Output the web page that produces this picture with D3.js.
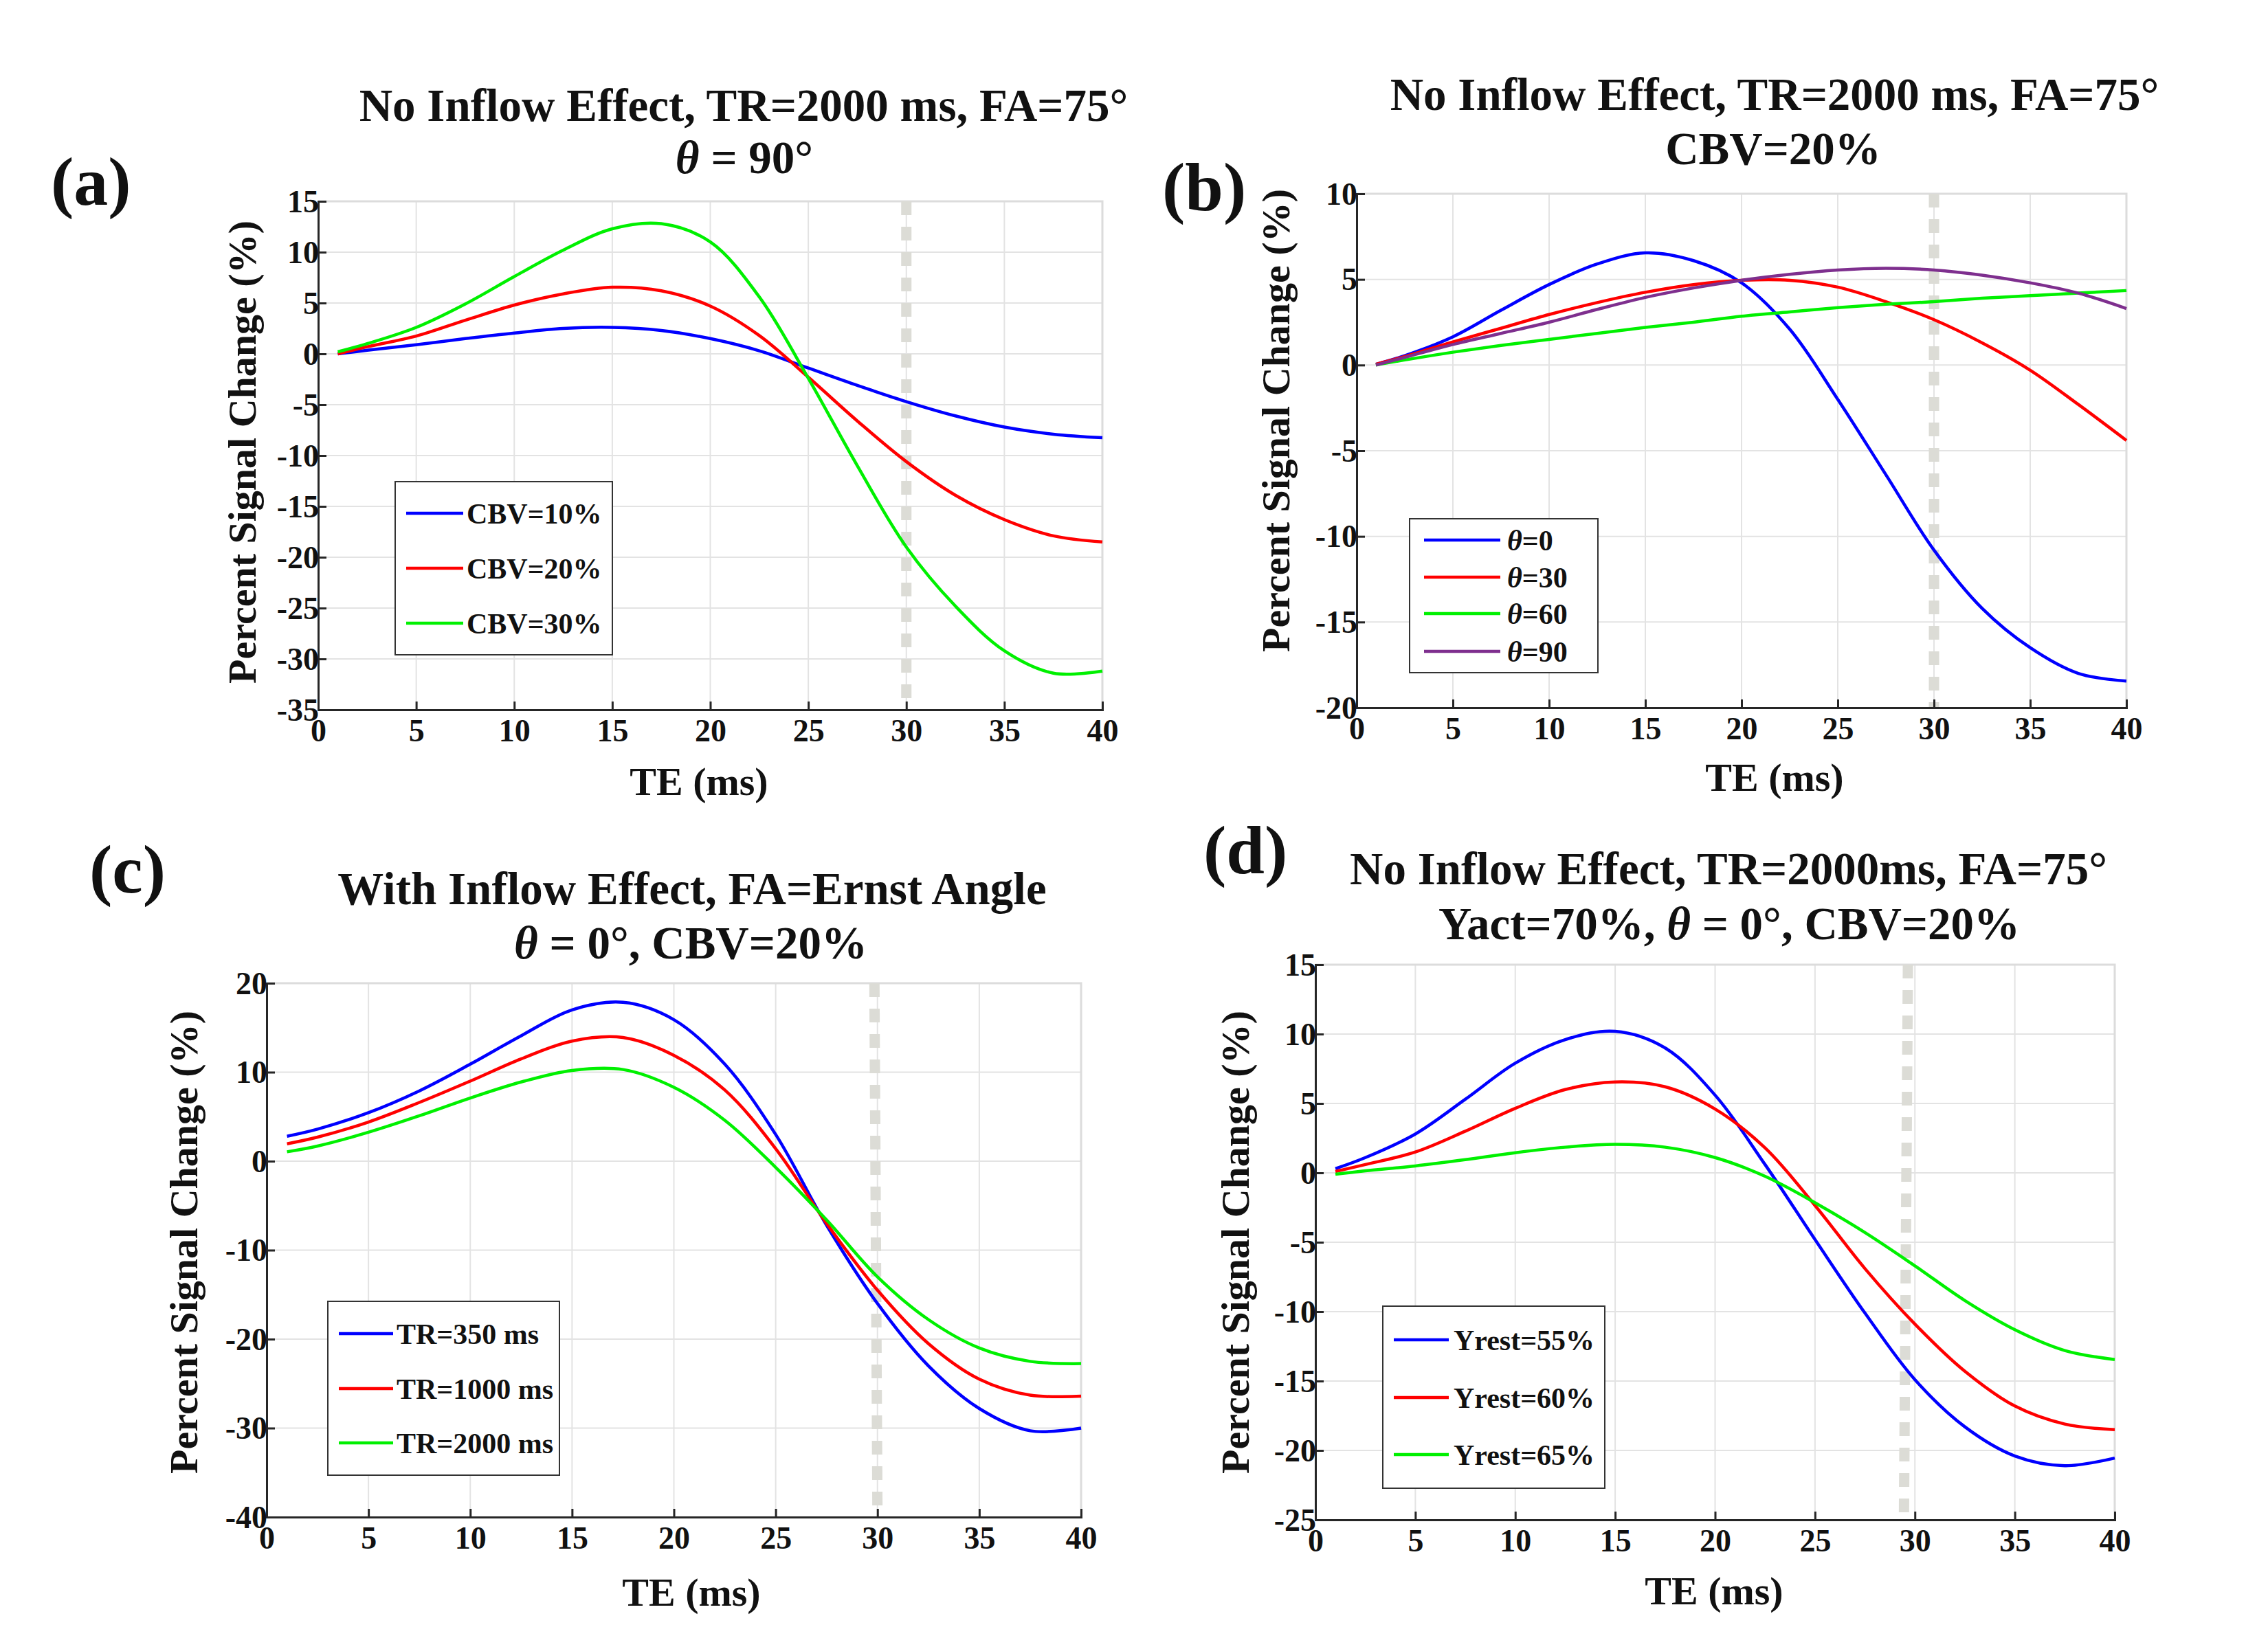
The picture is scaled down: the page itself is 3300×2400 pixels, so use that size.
<!DOCTYPE html>
<html>
<head>
<meta charset="utf-8">
<script src="https://cdn.jsdelivr.net/npm/d3@7"></script>
<style>
  body { margin: 0; background: #fff; }
  text { font-family: "Liberation Serif", "Times New Roman", serif; font-weight: bold; fill: #111; }
</style>
</head>
<body>
<div id="fig"></div>
<script>
// echo times (ms) the curves are sampled at
var TE = [1, 2.5, 5, 7.5, 10, 12.5, 15, 17.5, 20, 22.5, 25, 27.5, 30, 32.5, 35, 37.5, 40];
var xTicks = [0, 5, 10, 15, 20, 25, 30, 35, 40];

// (a) no inflow, theta = 90
var aYTicks = [-35, -30, -25, -20, -15, -10, -5, 0, 5, 10, 15];
var aCbv10 = [0, 0.35, 0.9, 1.5, 2.05, 2.5, 2.6, 2.3, 1.5, 0.3, -1.4, -3.1, -4.7, -6.1, -7.2, -7.9, -8.25];
var aCbv20 = [0, 0.7, 1.75, 3.3, 4.8, 5.9, 6.55, 6.2, 4.7, 1.8, -2.3, -6.6, -10.6, -13.9, -16.3, -17.9, -18.5];
var aCbv30 = [0.2, 1.0, 2.6, 4.9, 7.6, 10.2, 12.3, 12.8, 11.0, 5.6, -2.4, -11.0, -19.0, -24.8, -29.2, -31.4, -31.2];

// (b) no inflow, CBV = 20%
var bYTicks = [-20, -15, -10, -5, 0, 5, 10];
var bTheta0 = [0.05, 0.55, 1.65, 3.2, 4.7, 5.9, 6.55, 6.1, 4.8, 2.1, -2.0, -6.4, -10.8, -14.2, -16.5, -18.0, -18.45];
var bTheta30 = [0.05, 0.5, 1.35, 2.15, 2.95, 3.65, 4.25, 4.7, 4.95, 4.95, 4.55, 3.7, 2.65, 1.3, -0.3, -2.3, -4.4];
var bTheta60 = [0, 0.3, 0.75, 1.15, 1.5, 1.85, 2.2, 2.5, 2.85, 3.1, 3.35, 3.55, 3.7, 3.9, 4.05, 4.2, 4.35];
var bTheta90 = [0, 0.45, 1.2, 1.85, 2.5, 3.25, 3.95, 4.5, 4.95, 5.3, 5.55, 5.65, 5.55, 5.25, 4.8, 4.2, 3.3];

// (c) with inflow, FA = Ernst angle
var cYTicks = [-40, -30, -20, -10, 0, 10, 20];
var cTr350 = [2.8, 3.6, 5.45, 7.9, 10.9, 14.1, 17.0, 17.85, 15.9, 10.9, 3.0, -7.2, -16.0, -23.0, -27.8, -30.3, -30.0];
var cTr1000 = [1.95, 2.7, 4.4, 6.6, 9.0, 11.5, 13.5, 13.9, 11.9, 8.0, 1.4, -7.0, -14.5, -20.5, -24.5, -26.3, -26.4];
var cTr2000 = [1.05, 1.7, 3.25, 5.1, 7.1, 8.9, 10.2, 10.3, 8.3, 4.6, -0.7, -6.6, -13.0, -17.8, -21.0, -22.5, -22.75];

// (d) no inflow, Yact = 70%
var dYTicks = [-25, -20, -15, -10, -5, 0, 5, 10, 15];
var dYrest55 = [0.3, 1.1, 2.8, 5.3, 7.9, 9.6, 10.2, 9.0, 5.6, 0.6, -4.8, -10.1, -14.9, -18.3, -20.4, -21.1, -20.55];
var dYrest60 = [0.1, 0.6, 1.5, 3.0, 4.65, 6.0, 6.55, 6.2, 4.6, 1.8, -2.35, -6.9, -10.9, -14.3, -16.8, -18.1, -18.5];
var dYrest65 = [-0.1, 0.15, 0.5, 0.95, 1.45, 1.85, 2.05, 1.85, 1.1, -0.25, -2.15, -4.3, -6.7, -9.2, -11.3, -12.8, -13.45];

// TE marker line (top, bottom)
var aMark = [30, 30];
var bMark = [30, 30];
var cMark = [29.85, 30.0];
var dMark = [29.65, 29.45];

var BLUE = "#0000ff", RED = "#ff0000", GREEN = "#00f000", PURPLE = "#7e2f8e";

var panels = [
  { label: "(a)", lab: [74, 298], box: [463, 1604, 293, 1033], yDomain: [-35, 15], yTicks: aYTicks, mark: aMark,
    title: [[1082, 176, "No Inflow Effect, TR=2000 ms, FA=75°"], [1083, 252, [["θ", true], [" = 90°", false]]]],
    yLab: [372, 658], xLab: [1017, 1157],
    legend: { box: [575, 891, 701, 953], rows: [747, 827, 907], line: [591, 674], text: 679 },
    series: [["CBV=10%", BLUE, aCbv10], ["CBV=20%", RED, aCbv20], ["CBV=30%", GREEN, aCbv30]] },
  { label: "(b)", lab: [1691, 306], box: [1974, 3094, 282, 1030], yDomain: [-20, 10], yTicks: bYTicks, mark: bMark,
    title: [[2582, 160, "No Inflow Effect, TR=2000 ms, FA=75°"], [2580, 239, "CBV=20%"]],
    yLab: [1876, 612], xLab: [2582, 1151],
    legend: { box: [2051, 2325, 755, 979], rows: [786, 840, 893, 948], line: [2072, 2183], text: 2193 },
    series: [["0", BLUE, bTheta0], ["30", RED, bTheta30], ["60", GREEN, bTheta60], ["90", PURPLE, bTheta90]], theta: true },
  { label: "(c)", lab: [130, 1299], box: [388, 1573, 1431, 2208], yDomain: [-40, 20], yTicks: cYTicks, mark: cMark,
    title: [[1007, 1316, "With Inflow Effect, FA=Ernst Angle"], [1005, 1395, [["θ", true], [" = 0°, CBV=20%", false]]]],
    yLab: [287, 1808], xLab: [1006, 2337],
    legend: { box: [477, 814, 1894, 2147], rows: [1941, 2021, 2100], line: [493, 572], text: 577 },
    series: [["TR=350 ms", BLUE, cTr350], ["TR=1000 ms", RED, cTr1000], ["TR=2000 ms", GREEN, cTr2000]] },
  { label: "(d)", lab: [1751, 1271], box: [1914, 3077, 1404, 2212], yDomain: [-25, 15], yTicks: dYTicks, mark: dMark,
    title: [[2515, 1287, "No Inflow Effect, TR=2000ms, FA=75°"], [2516, 1367, [["Yact=70%, ", false], ["θ", true], [" = 0°, CBV=20%", false]]]],
    yLab: [1817, 1808], xLab: [2494, 2335],
    legend: { box: [2012, 2335, 1901, 2166], rows: [1950, 2034, 2117], line: [2028, 2108], text: 2115 },
    series: [["Yrest=55%", BLUE, dYrest55], ["Yrest=60%", RED, dYrest60], ["Yrest=65%", GREEN, dYrest65]] }
];

var svg = d3.select("#fig").append("svg")
  .attr("width", 3300)
  .attr("height", 2400)
  .style("background", "#fff");

function richText(sel, parts) {
  if (typeof parts === "string") { sel.text(parts); return; }
  parts.forEach(function(p) {
    sel.append("tspan").text(p[0]).style("font-style", p[1] ? "italic" : "normal");
  });
}

panels.forEach(function(p) {
  var x = d3.scaleLinear().domain([0, 40]).range([p.box[0], p.box[1]]);
  var y = d3.scaleLinear().domain(p.yDomain).range([p.box[3], p.box[2]]);
  var g = svg.append("g");

  // grid
  g.selectAll(".gx").data(xTicks).enter().append("line")
    .attr("x1", d => x(d)).attr("x2", d => x(d))
    .attr("y1", p.box[2]).attr("y2", p.box[3])
    .attr("stroke", "#e3e3e3").attr("stroke-width", 2);
  g.selectAll(".gy").data(p.yTicks).enter().append("line")
    .attr("x1", p.box[0]).attr("x2", p.box[1])
    .attr("y1", d => y(d)).attr("y2", d => y(d))
    .attr("stroke", "#e3e3e3").attr("stroke-width", 2);
  // top / right border
  g.append("path")
    .attr("d", `M${p.box[0]},${p.box[2]}H${p.box[1]}V${p.box[3]}`)
    .attr("fill", "none").attr("stroke", "#dcdcdc").attr("stroke-width", 3);

  // TE = 30 marker
  g.append("line")
    .attr("x1", x(p.mark[0])).attr("y1", p.box[2])
    .attr("x2", x(p.mark[1])).attr("y2", p.box[3])
    .attr("stroke", "#dcdcd6").attr("stroke-width", 15)
    .attr("stroke-dasharray", "20,17");

  // axes
  var xAxis = d3.axisBottom(x).tickValues(xTicks).tickSize(-12).tickPadding(0).tickFormat(d => String(d));
  var yAxis = d3.axisLeft(y).tickValues(p.yTicks).tickSize(-12).tickPadding(0).tickFormat(d => String(d));

  var gx = g.append("g").attr("transform", `translate(0,${p.box[3]})`).call(xAxis);
  var gy = g.append("g").attr("transform", `translate(${p.box[0]},0)`).call(yAxis);
  [gx, gy].forEach(function(a) {
    a.select(".domain").attr("stroke", "#262626").attr("stroke-width", 3);
    a.selectAll(".tick line").attr("stroke", "#262626").attr("stroke-width", 3);
    a.selectAll("text")
      .attr("fill", "#1a1a1a")
      .style("font-family", "'Liberation Serif', serif")
      .style("font-weight", "bold")
      .attr("font-size", 46);
  });
  gx.selectAll("text").attr("y", 46).attr("dy", 0);
  gy.selectAll("text").attr("x", 1).attr("dy", 15);

  // curves
  var line = d3.line()
    .x((d, i) => x(TE[i]))
    .y(d => y(d))
    .curve(d3.curveCatmullRom.alpha(0.5));
  p.series.forEach(function(s) {
    g.append("path")
      .datum(s[2])
      .attr("d", line)
      .attr("fill", "none")
      .attr("stroke", s[1])
      .attr("stroke-width", 4.5)
      .attr("stroke-linejoin", "round");
  });

  // legend
  var L = p.legend;
  g.append("rect")
    .attr("x", L.box[0]).attr("y", L.box[2])
    .attr("width", L.box[1] - L.box[0]).attr("height", L.box[3] - L.box[2])
    .attr("fill", "#fff").attr("stroke", "#333").attr("stroke-width", 2);
  p.series.forEach(function(s, i) {
    g.append("line")
      .attr("x1", L.line[0]).attr("x2", L.line[1])
      .attr("y1", L.rows[i]).attr("y2", L.rows[i])
      .attr("stroke", s[1]).attr("stroke-width", 4.5);
    var t = g.append("text")
      .attr("x", L.text).attr("y", L.rows[i] + 15)
      .attr("font-size", 42);
    if (p.theta) richText(t, [["θ", true], ["=" + s[0], false]]);
    else t.text(s[0]);
  });

  // titles and labels
  p.title.forEach(function(tl) {
    var t = g.append("text")
      .attr("x", tl[0]).attr("y", tl[1])
      .attr("text-anchor", "middle")
      .attr("font-size", 67);
    richText(t, tl[2]);
  });
  g.append("text")
    .attr("x", p.lab[0]).attr("y", p.lab[1])
    .attr("font-size", 100)
    .text(p.label);
  g.append("text")
    .attr("transform", `translate(${p.yLab[0]},${p.yLab[1]}) rotate(-90)`)
    .attr("text-anchor", "middle")
    .attr("font-size", 58)
    .text("Percent Signal Change (%)");
  g.append("text")
    .attr("x", p.xLab[0]).attr("y", p.xLab[1])
    .attr("text-anchor", "middle")
    .attr("font-size", 58)
    .text("TE (ms)");
});
</script>
</body>
</html>
